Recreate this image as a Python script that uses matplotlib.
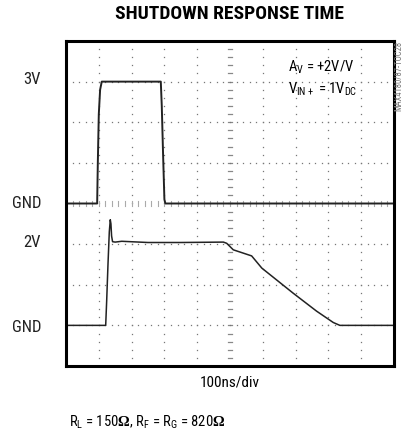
import matplotlib
matplotlib.use("Agg")
import matplotlib.pyplot as plt
from matplotlib import font_manager
import numpy as np

# time in divisions (100ns/div), voltage in volts (1V/div)
top_t = [0.0, 0.95, 0.97, 1.00, 1.04, 1.09, 2.89, 2.92, 2.96, 3.00, 3.03, 10.0]
top_v = [0.0, 0.0, 1.0, 2.2, 2.8, 3.0, 3.0, 2.4, 1.2, 0.1, 0.0, 0.0]

bot_t = [0.0, 1.21, 1.24, 1.28, 1.32, 1.35, 1.37, 1.39, 1.42, 1.5, 1.7, 2.5, 3.5,
         4.8, 4.9, 5.1, 5.66, 5.97, 6.93, 7.64, 8.15, 8.35, 8.86, 10.0]
bot_v = [0.0, 0.0, 0.6, 1.5, 2.3, 2.6, 2.5, 2.2, 2.06, 2.05, 2.07, 2.04, 2.04,
         2.05, 2.02, 1.86, 1.71, 1.41, 0.79, 0.35, 0.07, 0.0, 0.0, 0.0]

top_gnd = 4   # division of top trace ground
bot_gnd = 1   # division of bottom trace ground

level_labels = ["3V", "GND", "2V", "GND"]
level_pos = [7.05, 4, 3.05, 0.95]

# pick a narrow font if there is one
names = set(f.name for f in font_manager.fontManager.ttflist)
fnt = "Liberation Sans"
for n in ["Liberation Sans Narrow", "Roboto Condensed", "Liberation Sans"]:
    if n in names:
        fnt = n
        break
plt.rcParams["font.family"] = [fnt, "DejaVu Sans"]
plt.rcParams["mathtext.fontset"] = "custom"
plt.rcParams["mathtext.rm"] = fnt
plt.rcParams["mathtext.bf"] = "Liberation Serif:bold"

fig = plt.figure(figsize=(4.04, 4.37), dpi=100)
ax = fig.add_axes([66/404, 71/437, 328/404, 325/437])
ax.set_xlim(0, 10)
ax.set_ylim(0, 8)
ax.set_xticks([])
ax.set_yticks([])
for s in ax.spines.values():
    s.set_linewidth(2.2)
    s.set_color("black")

# dotted graticule
sub = np.arange(0.2, 10, 0.2)
suby = np.arange(0.2, 8, 0.2)
for i in range(1, 10):
    if i == 5:
        for y in suby:
            ax.plot([4.93, 5.07], [y, y], color="#888888", lw=0.9)
    else:
        ax.plot(np.full(len(suby), i), suby, ls="none", marker="s", ms=0.9,
                mec="none", mfc="#777777")
for j in range(1, 8):
    if j == 4:
        for x in sub:
            ax.plot([x, x], [3.95, 4.05], color="#aaaaaa", lw=0.8)
    else:
        ax.plot(sub, np.full(len(sub), j), ls="none", marker="s", ms=0.9,
                mec="none", mfc="#777777")

ax.plot(top_t, np.array(top_v) + top_gnd, color="#222222", lw=1.4)
ax.plot(bot_t, np.array(bot_v) + bot_gnd, color="#222222", lw=1.1)

for lab, p in zip(level_labels, level_pos):
    ax.text(-0.076, p, lab, transform=ax.get_yaxis_transform(), ha="right",
            va="center", fontsize=12, color="#222222")

ax.text(0.677, 0.92, r"A$_\mathrm{V}$ = +2V/V", transform=ax.transAxes,
        fontsize=10.5, va="center")
ax.text(0.677, 0.852, r"V$_\mathrm{IN+}$ = 1V$_\mathrm{DC}$", transform=ax.transAxes,
        fontsize=10.5, va="center")

fig.text(0.569, 0.968, "SHUTDOWN RESPONSE TIME", ha="center", va="center",
         fontsize=14, fontweight="bold")
fig.text(0.569, 0.124, "100ns/div", ha="center", va="center", fontsize=11)
fig.text(0.171, 0.034, r"R$_\mathrm{L}$ = 150$\mathbf{\Omega}$, R$_\mathrm{F}$ = R$_\mathrm{G}$ = 820$\mathbf{\Omega}$",
         ha="left", va="center", fontsize=10.5)
fig.text(0.988, 0.906, "MAX4180/87-TOC28", rotation=90, ha="center", va="top",
         fontsize=6.2, color="#777777")

fig.savefig("out.png", dpi=100)
